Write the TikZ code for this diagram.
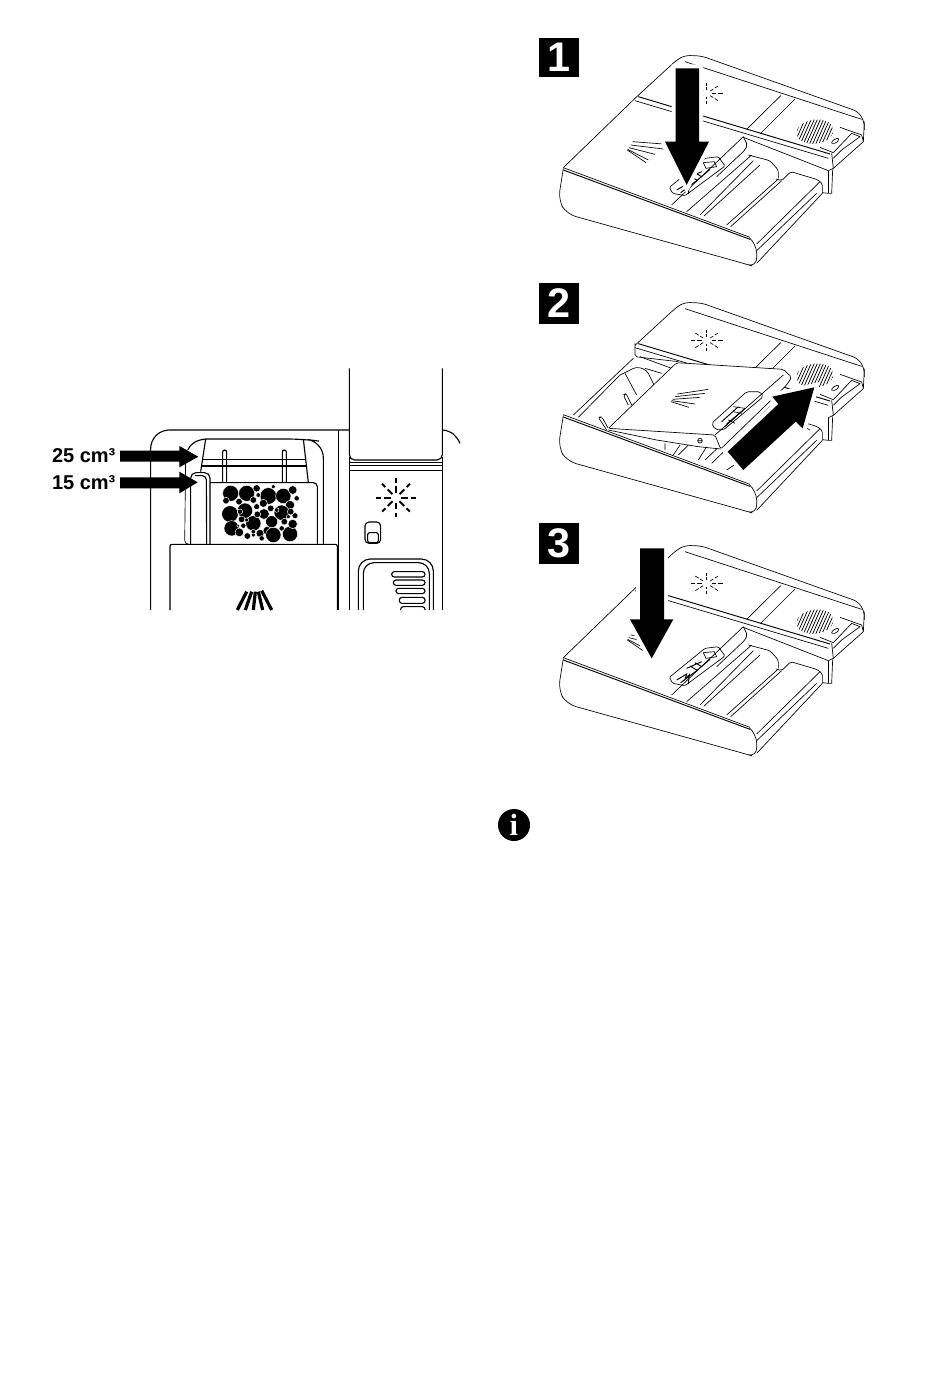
\documentclass[tikz,border=0pt]{standalone}
\usepackage{fontspec}
\setmainfont{Liberation Sans}
\newfontfamily\serifbold[BoldFont={Liberation Serif Bold}]{Liberation Serif}
\tikzset{
  thin line/.style={line width=.5pt,black},
  band line/.style={line width=.7pt,black},
  main line/.style={line width=.85pt,black},
  heavy line/.style={line width=1.5pt,black},
  halo arrow/.style={fill=black,preaction={draw=white,line width=6pt,line join=miter}},
  step number/.style={fill=black,text=white,font=\fontsize{31}{31}\selectfont\bfseries,minimum width=30pt,minimum height=30pt,inner sep=0pt},
  volume label/.style={font=\fontsize{15}{15}\selectfont\bfseries,anchor=east,inner sep=0pt},
  zoomed/.style={x=.25pt,y=-.25pt},
}
\newcommand\sparklemark{%
  \foreach \a in {0,45,...,315}{
    \draw[thin line] (530,190) ++(\a:15 and 10) -- ++(\a:13 and 8) ++(\a:6 and 4) -- ++(\a:14 and 9);
  }}
\newcommand\saltgrille[1]{%
  \begin{scope}[rotate around={8:(855,#1)}]
    \clip (855,#1) ellipse [x radius=56,y radius=36];
    \foreach \d in {-130,-120,...,130}{
      \draw[line width=.55pt,black] (855+\d-25,#1+40) -- (855+\d+25,#1-40);
    }
  \end{scope}}
\newcommand\housing{%
  \draw[thin line,rounded corners=4pt] (315,205) -- (440,90) -- (465,76) -- (515,78) -- (985,245) -- (1003,275) -- (1003,300);
  \draw[thin line] (465,95) -- (995,268);
  \draw[thin line] (650,298) -- (752,197) (690,312) -- (795,207);
  \draw[band line] (325,200) -- (900,372);
  \draw[thin line] (315,212) -- (895,385);
  \draw[thin line] (870,352) -- (910,368);
  \draw[thin line] (930,292) -- (995,315) -- (1000,335) -- (910,415);
  \draw[thin line] (910,368) -- (965,310) -- (990,320) -- (935,360) -- (910,385);
  \draw[thin line] (905,370) -- (910,415) -- (895,422);
  \draw[thin line] (1003,275) -- (1000,335);
  \draw[thin line,rounded corners=1.5pt] (902,340) -- (915,325) -- (928,325) -- (920,340) -- cycle;
  \sparklemark
}
\newcommand\drawerfront{%
  \draw[thin line,rounded corners=7pt] (100,415) -- (85,510) -- (110,552) -- (640,700) -- (680,712) -- (680,642) -- (660,625);
  \draw[band line] (100,420) -- (660,628);
  \draw[thin line] (100,413) -- (660,622);
  \draw[thin line] (680,642) -- (870,455) (680,662) -- (860,490) (680,700) -- (877,490);
  \draw[thin line,rounded corners=1.5pt] (877,490) -- (877,460) -- (860,448) -- (782,425) -- (755,452) -- (738,447);
  \draw[thin line] (877,488) -- (895,490) -- (905,490) -- (908,418);
  \draw[thin line] (895,490) -- (895,422);
}
\newcommand\closedlid{%
  \draw[thin line] (100,413) -- (315,205);
  \draw[thin line] (425,525) -- (640,320);
  \draw[thin line,rounded corners=1.5pt] (640,320) -- (652,345) -- (645,360) -- (560,440);
  \draw[thin line] (640,322) -- (895,422);
  \draw[thin line] (470,545) -- (665,375) (510,555) -- (670,392) (522,558) -- (690,405) (590,585) -- (745,447) (602,590) -- (755,452);
  \draw[thin line,rounded corners=2pt] (655,375) -- (720,392) -- (745,420) -- (745,445);
  \draw[thin line,rounded corners=1pt] (418,472) -- (525,385) -- (565,380) -- (585,408) -- (465,497) -- (428,490) -- cycle;
  \draw[thin line] (520,398) -- (553,395) -- (560,410) -- (528,415) -- cycle;
  \draw[band line] (440,480) -- (470,462) -- (465,478) -- (478,464) -- (475,492) (452,488) -- (500,452) -- (540,418);
  \draw[band line] (470,445) -- (515,425) (480,438) -- (500,450) (495,428) -- (515,440);
  \foreach \a/\b/\c/\d in {308/335/400/342,302/345/400/357,297/353/375/373,293/358/355/390,292/360/348/398}{\draw[thin line] (\a,\b) -- (\c,\d);}
}
\begin{document}
\begin{tikzpicture}[x=.75pt,y=-.75pt]
\useasboundingbox (0,0) rectangle (950,1374);
\fill[white] (0,0) rectangle (950,1374);

% ---- left: compartment detail
\begin{scope}[shift={(40,360)},zoomed]
  \draw[main line,rounded corners=14pt] (332,750) -- (332,210) -- (928,210);
  \draw[main line] (895,210) -- (895,750);
  \draw[main line,rounded corners=4pt] (928,25) -- (928,300) -- (1207,300) -- (1207,25);
  \draw[main line] (928,290) -- (928,750) (1207,290) -- (1207,750);
  \draw[main line] (928,307) -- (1207,307) (928,316) -- (1207,316) (928,331) -- (1207,331);
  \draw[main line] (1207,210) .. controls (1235,212) and (1250,228) .. (1260,250);
  % cup
  \draw[main line,rounded corners=12pt] (497,237) -- (790,237) -- (850,245) -- (850,553);
  \draw[main line] (497,237) .. controls (470,240) and (452,250) .. (443,270);
  \draw[thin line,rounded corners=3pt] (437,290) -- (434,553) -- (450,553);
  \draw[main line] (497,237) -- (482,335) (790,237) -- (805,368);
  \draw[main line] (490,298) -- (795,298) (482,318) -- (800,318);
  \draw[main line,rounded corners=1.5pt] (548,368) -- (548,270) -- (560,270) -- (560,368);
  \draw[main line,rounded corners=1.5pt] (727,368) -- (727,270) -- (739,270) -- (739,368);
  \draw[main line,rounded corners=3pt] (510,368) -- (832,368) -- (832,553);
  \draw[main line,rounded corners=4pt] (452,553) -- (452,338) -- (510,338) -- (510,553);
  \draw[main line,rounded corners=3pt] (465,347) -- (499,347) -- (500,553);
  % foam
  \foreach \x/\y/\r in {572/400/24,620/400/24,650/385/11,685/408/25,730/408/23,758/390/13,770/415/8,558/422/10,597/425/10,640/420/10,670/430/12,750/435/14,570/462/25,615/452/23,650/440/9,692/445/10,672/462/16,725/458/23,765/467/9,752/455/10,640/490/23,605/478/10,610/497/8,575/505/23,598/517/13,622/528/10,660/520/12,682/512/13,700/525/23,750/522/23,758/492/14,733/485/10,695/485/18,652/463/10,665/535/8,725/505/8,640/515/7,600/455/8,700/380/6,655/405/7,620/480/6,710/450/7,595/497/5,745/470/6,640/525/6}{
    \filldraw[fill=black,draw=white,line width=.35pt] (\x,\y) circle (\r);
  }
  % front lid
  \fill[white] (390,555) rectangle (892,750);
  \draw[main line,rounded corners=1.5pt] (390,750) -- (390,553) -- (892,553) -- (892,750);
  % spray mark
  \foreach \a/\b/\c/\d in {592/750/620/695,616/750/635/695,640/750/646/695,668/750/655/695,695/750/665/692}{
    \draw[line width=2.4pt,black] (\a,\b) -- (\c,\d);
  }
  % rinse-aid sparkle
  \foreach \a in {0,45,...,315}{
    \draw[heavy line] (1068,413) ++(\a:15) -- ++(\a:20) ++(\a:10) -- ++(\a:14);
  }
  % knob
  \draw[main line,rounded corners=3pt] (975,550) -- (975,486) -- (1022,486) -- (1022,550) -- cycle;
  \draw[main line,rounded corners=1.5pt] (983,518) rectangle (1015,548);
  % slotted panel
  \draw[main line,rounded corners=9pt] (955,750) -- (955,597) -- (1180,597) -- (1180,750);
  \draw[main line,rounded corners=8pt] (970,750) -- (970,608) -- (1168,608) -- (1168,750);
  \foreach \xa/\ya/\yb in {1055/635/651,1060/660/676,1068/685/701,1078/712/730}{
    \draw[main line,rounded corners=2pt] (\xa,\ya) rectangle (1155,\yb);
  }
  \draw[main line,rounded corners=2pt] (1082,750) -- (1082,740) -- (1155,740) -- (1155,750);
  % volume marks
  \node[volume label] (v25) at (227,287) {25 cm³};
  \node[volume label] (v15) at (227,367) {15 cm³};
  \fill[black] (240,272) -- (418,272) -- (418,258) -- (475,290) -- (418,322) -- (418,305) -- (240,305) -- cycle;
  \fill[black] (240,352) -- (418,352) -- (418,335) -- (473,367) -- (418,400) -- (418,385) -- (240,385) -- cycle;
\end{scope}

% ---- view 1
\begin{scope}[shift={(530,30)},zoomed]
  \housing \saltgrille{305} \drawerfront \closedlid
  \path[halo arrow] (437,115) -- (507,115) -- (507,335) -- (537,335) -- (470,465) -- (405,335) -- (437,335) -- cycle;
\end{scope}
\node[step number,minimum height=29.5pt] (s1) at (559,57.5) {1};

% ---- view 2
\begin{scope}[shift={(530,277)},zoomed]
  \housing \saltgrille{296} \drawerfront
\end{scope}
\begin{scope}[shift={(530,280)},zoomed]
  % tray interior
  \draw[thin line] (130,405) -- (310,235) (145,412) -- (270,285);
  \draw[thin line,rounded corners=1.5pt] (315,190) -- (315,230) -- (445,245);
  \draw[thin line,rounded corners=3pt] (270,285) -- (320,260) -- (350,270) -- (372,315);
  \draw[thin line] (285,280) -- (320,345);
  \draw[thin line] (330,230) -- (425,265) (345,265) -- (395,280);
  \draw[thin line,rounded corners=1.5pt] (295,375) -- (280,345) -- (288,340) -- (305,375);
  \draw[thin line,rounded corners=1.5pt] (230,450) -- (205,412) -- (215,410) -- (235,445);
  \draw[thin line] (405,490) -- (405,510) (450,495) -- (430,525) (475,495) -- (445,525) (530,500) -- (505,540);
  \draw[thin line] (525,540) -- (620,450) (545,550) -- (720,380) (590,570) -- (800,430) (800,430) -- (840,450);
  % raised lid
  \fill[white] (235,445) -- (440,248) -- (760,268) -- (785,292) -- (770,315) -- (572,507) -- (555,465) -- cycle;
  \fill[white] (235,448) -- (400,478) -- (572,507) -- (555,465) -- cycle;
  \draw[thin line,rounded corners=1.5pt] (235,445) -- (440,248) -- (760,268) -- (785,292) -- (770,315) -- (572,507) -- (555,465) -- cycle;
  \draw[thin line] (235,450) -- (380,480) -- (505,500) -- (572,507);
  \draw[thin line] (555,465) -- (760,285);
  \draw[thin line,rounded corners=1.5pt] (545,430) -- (650,335) -- (690,335) -- (700,350) -- (580,450) -- (555,448) -- cycle;
  \draw[thin line] (610,380) -- (645,385) -- (585,440) (595,420) -- (615,430) (610,395) -- (635,400);
  \draw[band line] (575,425) -- (625,380) (590,432) -- (640,390);
  \draw[thin line] (510,482) circle (7) (503,482) -- (517,482);
  \foreach \a/\b/\c/\d in {442/342/535/328,435/350/525/340,428/358/510/352,425/362/495/372,423/365/477/382}{\draw[thin line] (\a,\b) -- (\c,\d);}
  \path[halo arrow] (593,515) -- (745,372) -- (727,350) -- (853,322) -- (818,445) -- (797,425) -- (640,570) -- cycle;
\end{scope}
\node[step number,minimum height=30.5pt] (s2) at (559,303.5) {2};

% ---- view 3
\begin{scope}[shift={(530,520)},zoomed]
  \housing \saltgrille{305} \drawerfront \closedlid
  \path[halo arrow] (330,85) -- (402,85) -- (402,298) -- (430,298) -- (365,415) -- (300,298) -- (330,298) -- cycle;
\end{scope}
\node[step number,minimum height=30.5pt] (s3) at (559,543.5) {3};

% ---- information mark
\node[circle,fill=black,text=white,minimum size=24pt,inner sep=0pt,font=\serifbold\fontsize{23}{23}\selectfont\bfseries] (info) at (514,825) {i};
\end{tikzpicture}
\end{document}
